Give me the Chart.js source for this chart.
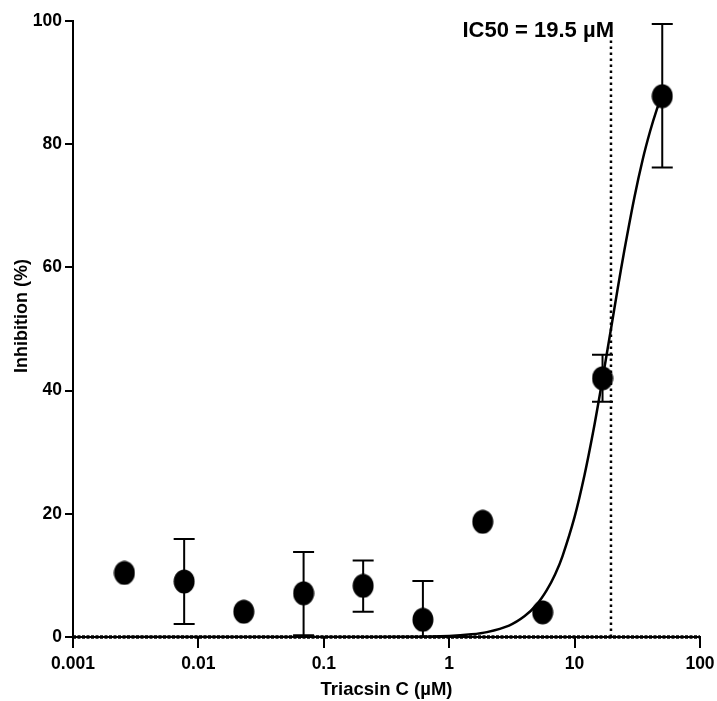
<!DOCTYPE html>
<html>
<head>
<meta charset="utf-8">
<script src="https://cdn.jsdelivr.net/npm/chart.js@4.4.1/dist/chart.umd.min.js"></script>
<style>
  html, body { margin: 0; padding: 0; background: #fff; }
  #wrap { width: 717px; height: 701px; }
</style>
</head>
<body>
<div id="wrap"><canvas id="ic50Chart" width="717" height="701"></canvas></div>
<script>
// Triacsin C dose-response (3-fold dilutions)
const concentrations = [0.00257, 0.0077, 0.023, 0.069, 0.206, 0.617, 1.85, 5.56, 16.7, 50];
const inhibition     = [10.4, 9.0, 4.1, 7.1, 8.3, 2.8, 18.7, 4.0, 42.0, 87.8];
const errHigh        = [null, 15.9, null, 13.8, 12.4, 9.1, null, null, 45.8, 99.5];
const errLow         = [null, 2.1, null, 0.3, 4.1, -3.5, null, null, 38.2, 76.2];

// fitted curve
const curveX = [0.00257, 0.1, 0.5, 1, 1.5, 2, 3, 4, 5, 6, 7, 8, 10, 12, 14, 16, 19.5, 22, 25, 30, 35, 40, 45, 50];
const curveY = [0, 0, 0.04, 0.18, 0.43, 0.79, 1.86, 3.4, 5.3, 7.6, 10.2, 13.1, 19.5, 26.3, 33.1, 39.7, 50, 56.4, 62.9, 71.4, 77.6, 82.1, 85.5, 88.0];

const ic50 = 19.5;
const ic50Label = 'IC50 = 19.5 µM';
const xTicks = [0.001, 0.01, 0.1, 1, 10, 100];
const xTickLabels = ['0.001', '0.01', '0.1', '1', '10', '100'];
const yTitle = 'Inhibition (%)';

const FONT = "'Liberation Sans', Arial, sans-serif";

// filled ellipse marker
const marker = document.createElement('canvas');
marker.width = 22; marker.height = 25;
(function () {
    const m = marker.getContext('2d');
    m.fillStyle = '#000';
    m.beginPath();
    m.ellipse(11, 12.5, 10.5, 12, 0, 0, Math.PI * 2);
    m.fill();
})();

const errorBars = {
    id: 'errorBars',
    beforeDatasetsDraw(chart) {
        const { ctx, chartArea, scales: { x, y } } = chart;
        ctx.save();
        ctx.beginPath();
        ctx.rect(chartArea.left, chartArea.top - 5, chartArea.right - chartArea.left, chartArea.bottom - chartArea.top + 5);
        ctx.clip();
        ctx.strokeStyle = '#000';
        ctx.lineWidth = 2;
        concentrations.forEach((c, i) => {
            if (errHigh[i] == null) return;
            const px = x.getPixelForValue(c);
            const top = y.getPixelForValue(errHigh[i]);
            const bot = y.getPixelForValue(errLow[i]);
            ctx.beginPath();
            ctx.moveTo(px, top); ctx.lineTo(px, bot);
            ctx.moveTo(px - 10.5, top); ctx.lineTo(px + 10.5, top);
            ctx.moveTo(px - 10.5, bot); ctx.lineTo(px + 10.5, bot);
            ctx.stroke();
        });
        ctx.restore();
    },
    afterDatasetsDraw(chart) {
        const { ctx, scales: { x } } = chart;
        ctx.save();
        ctx.fillStyle = '#000';
        ctx.font = 'bold 22px ' + FONT;
        ctx.textAlign = 'right';
        ctx.textBaseline = 'alphabetic';
        ctx.fillText(ic50Label, x.getPixelForValue(ic50) + 3, 37);

        // y axis title, placed like the original
        ctx.font = 'bold 18px ' + FONT;
        ctx.textAlign = 'center';
        ctx.textBaseline = 'middle';
        ctx.translate(22, 316);
        ctx.rotate(-Math.PI / 2);
        ctx.fillText(yTitle, 0, 0);
        ctx.restore();
    }
};

new Chart(document.getElementById('ic50Chart'), {
    type: 'scatter',
    data: {
        datasets: [
            {
                label: 'Data',
                data: concentrations.map((c, i) => ({ x: c, y: inhibition[i] })),
                pointStyle: marker,
                pointRadius: 11,
                showLine: false,
                order: 0
            },
            {
                label: 'Fit',
                data: curveX.map((c, i) => ({ x: c, y: curveY[i] })),
                showLine: true,
                borderColor: '#000',
                borderWidth: 2.5,
                pointRadius: 0,
                tension: 0.3,
                order: 1
            },
            {
                label: 'IC50',
                data: [{ x: ic50, y: 0 }, { x: ic50, y: 98.5 }],
                showLine: true,
                borderColor: '#000',
                borderWidth: 2.5,
                borderDash: [2.5, 3.5],
                pointRadius: 0,
                order: 2
            },
            {
                label: 'Zero',
                data: [{ x: 0.001, y: 0 }, { x: 100, y: 0 }],
                showLine: true,
                borderColor: '#000',
                borderWidth: 3.5,
                borderDash: [3, 1.5],
                pointRadius: 0,
                clip: false,
                order: 3
            }
        ]
    },
    options: {
        responsive: false,
        animation: false,
        layout: { padding: { top: 21, right: 17, bottom: 0, left: 0 } },
        plugins: {
            legend: { display: false },
            tooltip: { enabled: false }
        },
        scales: {
            x: {
                type: 'logarithmic',
                min: 0.001,
                max: 100,
                afterBuildTicks: (scale) => { scale.ticks = xTicks.map(v => ({ value: v, major: true })); },
                afterFit: (scale) => { scale.height = 64; scale.paddingLeft = 0; scale.paddingRight = 0; },
                border: { display: true, color: '#000', width: 2 },
                grid: { drawOnChartArea: false, drawTicks: true, tickLength: 11, color: '#000', lineWidth: 2 },
                ticks: {
                    color: '#000',
                    font: { family: FONT, size: 17.5, weight: 'bold' },
                    padding: 6,
                    maxRotation: 0,
                    autoSkip: false,
                    callback: (v) => xTickLabels[xTicks.indexOf(v)] || ''
                },
                title: {
                    display: true,
                    text: 'Triacsin C (µM)',
                    color: '#000',
                    font: { family: FONT, size: 18.5, weight: 'bold' },
                    padding: { top: 4, bottom: 0 }
                }
            },
            y: {
                min: 0,
                max: 100,
                afterFit: (scale) => { scale.width = 73; scale.paddingTop = 0; scale.paddingBottom = 0; },
                border: { display: true, color: '#000', width: 2 },
                grid: { drawOnChartArea: false, drawTicks: true, tickLength: 8, color: '#000', lineWidth: 2 },
                ticks: {
                    stepSize: 20,
                    color: '#000',
                    font: { family: FONT, size: 17.5, weight: 'bold' },
                    padding: 3
                }
            }
        }
    },
    plugins: [errorBars]
});
</script>
</body>
</html>
